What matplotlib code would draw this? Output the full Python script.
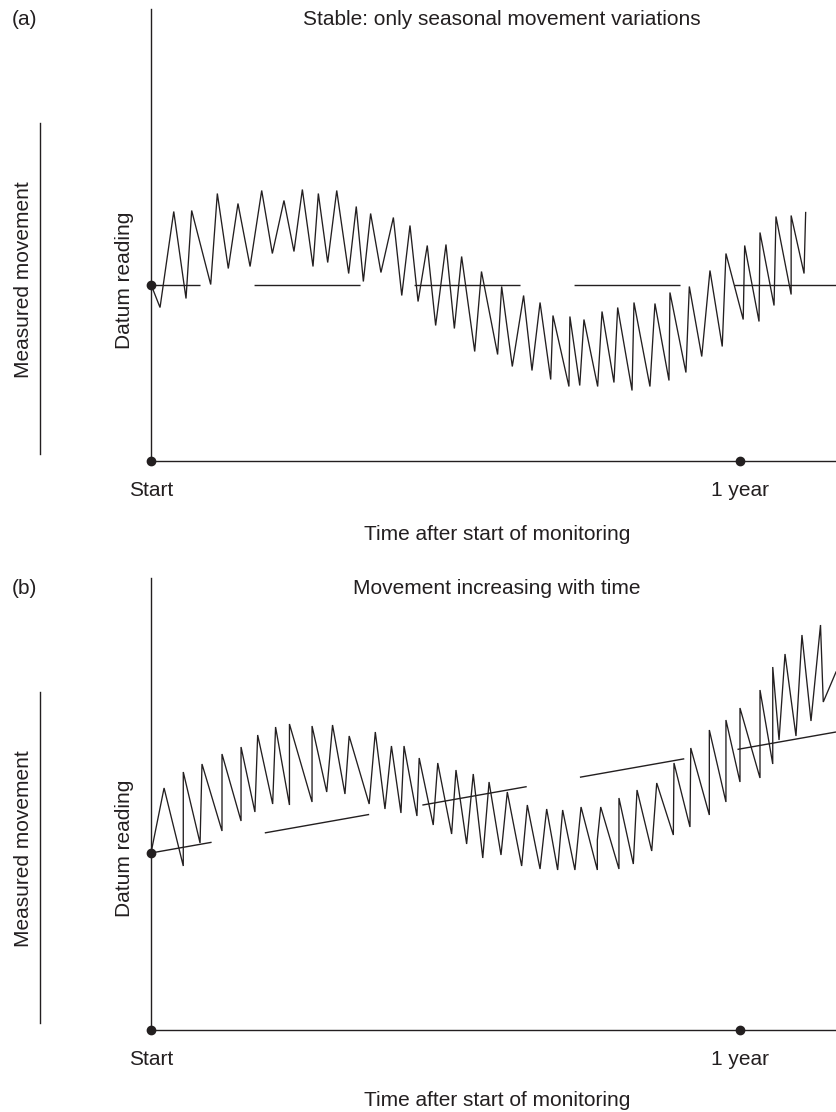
import matplotlib
matplotlib.use('Agg')
import matplotlib.pyplot as plt
from matplotlib.lines import Line2D
from matplotlib.transforms import blended_transform_factory

plt.rcParams['font.family'] = ['Liberation Sans', 'DejaVu Sans']
plt.rcParams['lines.scale_dashes'] = False

INK = '#231f20'

# ---------------- data (time in days, movement in arbitrary units) ----------------
t_a = [0, 5.6, 14.1, 21.7, 25.2, 37.0, 41.1, 47.9, 53.9, 61.4,
       68.6, 75.2, 82.4, 88.6, 93.8, 100.4, 103.7, 109.5, 115.1, 122.5,
       127.2, 131.6, 136.1, 142.5, 150.2, 155.4, 160.5, 165.5, 171.2, 176.4,
       182.8, 188.0, 192.5, 200.6, 204.8, 214.8, 217.3, 223.9, 230.9, 236.1,
       241.1, 247.7, 249.1, 259.0, 259.6, 265.7, 268.3, 276.8, 279.5, 286.9,
       289.2, 298.1, 299.3, 309.2, 312.3, 321.0, 321.6, 331.5, 333.6, 341.3,
       346.4, 354.0, 356.3, 367.0, 367.9, 376.8, 377.4, 386.1, 387.3, 396.7,
       396.7, 404.7, 405.7]
y_a = [0, -2.3, 7.3, -1.4, 7.4, 0.0, 9.1, 1.6, 8.1, 1.8,
       9.4, 3.1, 8.4, 3.3, 9.5, 1.8, 9.1, 2.2, 9.4, 1.1,
       7.8, 0.3, 7.1, 1.2, 6.7, -1.1, 5.9, -1.7, 3.9, -4.1,
       4.0, -4.4, 2.8, -6.7, 1.3, -7.0, -0.2, -8.2, -1.1, -8.6,
       -1.8, -9.5, -3.1, -10.2, -3.2, -10.1, -3.5, -10.2, -2.7, -9.8,
       -2.3, -10.6, -1.8, -10.2, -1.9, -9.6, -0.8, -8.8, -0.2, -7.2,
       1.4, -6.2, 3.1, -3.5, 3.9, -3.7, 5.2, -2.1, 6.8, -1.0,
       6.9, 1.1, 7.2]

t_b = [0, 8.1, 20.0, 20.0, 30.4, 31.6, 44.0, 44.0, 55.8, 55.8,
       64.4, 66.1, 75.4, 77.2, 85.8, 85.8, 99.8, 99.8, 108.9, 112.5,
       120.2, 122.8, 135.2, 139.0, 145.0, 149.0, 154.9, 156.8, 164.8, 166.2,
       174.9, 177.7, 186.3, 189.0, 195.6, 199.7, 205.6, 209.5, 216.9, 220.8,
       229.7, 233.2, 241.1, 245.2, 252.0, 255.1, 262.7, 266.5, 276.6, 276.6,
       278.7, 290.0, 290.0, 298.9, 301.2, 310.3, 313.4, 323.7, 324.1, 334.0,
       334.5, 346.0, 346.0, 356.3, 356.3, 365.0, 365.0, 377.4, 377.4, 385.3,
       385.3, 389.2, 392.9, 399.7, 403.4, 409.0, 414.9, 416.6, 424.5]
y_b = [0, 6.5, -1.3, 8.1, 1.0, 8.9, 2.2, 9.9, 3.2, 10.6,
       4.1, 11.8, 4.9, 12.6, 4.8, 12.9, 5.1, 12.7, 6.1, 12.8,
       5.9, 11.7, 4.9, 12.1, 4.4, 10.7, 4.0, 10.7, 3.7, 9.5,
       2.8, 9.0, 1.9, 8.3, 0.9, 7.9, -0.5, 7.1, -0.2, 6.1,
       -1.3, 4.8, -1.6, 4.4, -1.7, 4.3, -1.7, 4.6, -1.7, 1.3,
       4.6, -1.6, 5.5, -1.1, 6.3, 0.2, 7.0, 1.8, 9.0, 2.6,
       10.5, 3.8, 12.3, 5.1, 13.3, 7.1, 14.5, 7.5, 16.3, 8.9,
       18.6, 11.3, 19.9, 11.7, 21.8, 13.2, 22.8, 15.1, 18.1]

datum_t = [0, 424.5]
datum_a = [0, 0]
datum_b = [0, 12.1]

tick_t = [0, 365]
tick_labels = ['Start', '1 year']

panel_tags = ['(a)', '(b)']
titles = ['Stable: only seasonal movement variations', 'Movement increasing with time']
xlabel = 'Time after start of monitoring'
ylabel_outer = 'Measured movement'
ylabel_inner = 'Datum reading'

# ---------------- layout (pixels) ----------------
W, H = 836, 1112
fig = plt.figure(figsize=(W / 100, H / 100), dpi=100)

def fx(px):
    return px / W

def fy(py):
    return 1 - py / H

XMAX = 424.5
YMIN, YMAX = -17.65, 27.55
FS = 15
panel_off = 568.5

datum_series = [datum_a, datum_b]
series = [(t_a, y_a), (t_b, y_b)]
dash_offsets = [41, 32]

for i in range(2):
    off = panel_off * i
    top_px, bot_px = 9 + off, 461 + off
    ax = fig.add_axes([fx(151), fy(bot_px), fx(836 - 151), (bot_px - top_px) / H])
    ax.set_xlim(0, XMAX)
    ax.set_ylim(YMIN, YMAX)
    for s in ['top', 'right']:
        ax.spines[s].set_visible(False)
    for s in ['left', 'bottom']:
        ax.spines[s].set_color(INK)
        ax.spines[s].set_linewidth(1.0)
    ax.set_xticks([])
    ax.set_yticks([])
    ax.patch.set_alpha(0)

    t, y = series[i]
    ax.plot(t, y, color=INK, lw=0.95, solid_joinstyle='miter', zorder=3)
    ax.plot(datum_t, datum_series[i], color=INK, lw=1.0,
            linestyle=(dash_offsets[i], (76.3, 38.9)), zorder=2)

    # dots: datum start, origin and 1 year
    ax.plot([datum_t[0]], [datum_series[i][0]], 'o', color=INK, ms=6,
            clip_on=False, zorder=5)
    ax.plot(tick_t, [YMIN] * len(tick_t), 'o', color=INK, ms=6,
            clip_on=False, zorder=5)

    trans = blended_transform_factory(ax.transData, fig.transFigure)
    for tt, lab in zip(tick_t, tick_labels):
        ax.text(tt, fy(496.5 + off), lab, transform=trans, ha='center',
                va='baseline', fontsize=FS, color=INK)

    fig.text(fx(497), fy([540, 1106][i]), xlabel, ha='center', va='baseline',
             fontsize=FS, color=INK)
    fig.text(fx(12), fy(25 + off), panel_tags[i], ha='left', va='baseline',
             fontsize=FS, color=INK)
    fig.text(fx([502, 497][i]), fy(25 + off), titles[i], ha='center',
             va='baseline', fontsize=FS, color=INK)

    fig.text(fx(24), fy(280 + off), ylabel_outer, rotation=90, ha='center',
             va='center', fontsize=FS, color=INK)
    fig.text(fx(125), fy(280 + off), ylabel_inner, rotation=90, ha='center',
             va='center', fontsize=FS, color=INK)
    fig.add_artist(Line2D([fx(40), fx(40)], [fy(123 + off), fy(454 + off)],
                          color=INK, lw=1.0, transform=fig.transFigure))

fig.savefig('out.png', dpi=100, facecolor='white')
